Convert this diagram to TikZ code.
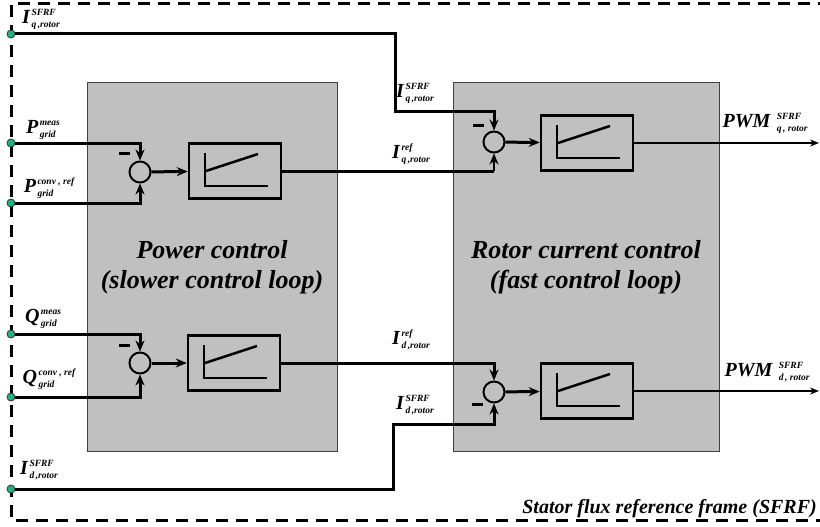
\documentclass[tikz,border=0pt]{standalone}
\usepackage{fontspec}
\setmainfont{Liberation Serif}
\usetikzlibrary{arrows.meta,calc}

\definecolor{panelgray}{RGB}{192,192,192}
\definecolor{tapgreen}{RGB}{30,180,130}

% symbol with stacked super- and subscript
\newcommand{\sgn}[3]{#1\hspace{1.5pt}\raisebox{-4pt}{\fontsize{9.5}{12.5}\selectfont\begin{tabular}[b]{@{}l@{}}#2\\#3\end{tabular}}}

\tikzset{
 panel/.style={draw=black!75,line width=1pt,fill=panelgray,minimum height=368pt,inner sep=0pt,align=center,font=\fontsize{26}{30}\selectfont\bfseries\itshape},
 piblk/.style={draw,line width=2.5pt,minimum width=92pt,minimum height=55pt,inner sep=0pt},
 sumj/.style={circle,draw,line width=2pt,minimum size=21pt,inner sep=0pt},
 tap/.style={circle,draw=black!80,line width=0.8pt,fill=tapgreen,minimum size=8pt,inner sep=0pt},
 sig/.style={line width=3pt},
 slim/.style={line width=1.4pt},
 tip/.style={-{Stealth[length=11pt,width=9pt]}},
 minus/.style={fill,minimum width=11pt,minimum height=3pt,inner sep=0pt},
 lbl/.style={inner sep=0pt,font=\fontsize{20}{22}\selectfont\bfseries\itshape},
 frame/.style={line width=3pt,dash pattern=on 12pt off 8pt}
}

\begin{document}
\begin{tikzpicture}[x=1pt,y=-1pt]
 \useasboundingbox (0,0) rectangle (820,527);
 \draw[frame] (830,4) -- (11,4) -- (11,520) -- (830,520);
 \node[panel,minimum width=250pt] (pc) at (212,267) {Power control\\(slower control loop)};
 \node[panel,minimum width=266pt] (rc) at (586,267) {Rotor current control\\(fast control loop)};
 % summing junctions and PI blocks
 \node[sumj] (sq1) at (140,172) {};
 \node[sumj] (sd1) at (140,363) {};
 \node[sumj] (sq2) at (494,142) {};
 \node[sumj] (sd2) at (494,392) {};
 \node[piblk] (pq1) at (235,171) {};
 \node[piblk] (pd1) at (234,363) {};
 \node[piblk] (pq2) at (587,143) {};
 \node[piblk] (pd2) at (587,391) {};
 \foreach \b in {pq1,pd1,pq2,pd2} {
  \draw[line width=2.5pt] ($(\b)+(-30,-18)$) -- ($(\b)+(-30,15)$) -- ($(\b)+(33,15)$);
  \draw[line width=2.5pt] ($(\b)+(-29,0)$) -- ($(\b)+(23,-17)$);
 }
 \node[minus] (mq1) at ($(sq1)+(-16,-19)$) {};
 \node[minus] (md1) at ($(sd1)+(-16,-18)$) {};
 \node[minus] (mq2) at ($(sq2)+(-16,-17)$) {};
 \node[minus] (md2) at ($(sd2)+(-17,12)$) {};
 % inputs
 \node[tap] (iqin) at (11,34) {};
 \node[tap] (pmeas) at (11,143) {};
 \node[tap] (pconv) at (11,203) {};
 \node[tap] (qmeas) at (11,334) {};
 \node[tap] (qconv) at (11,397) {};
 \node[tap] (idin) at (11,489) {};
 \coordinate (qbend) at (395,112);
 \coordinate (dbend) at (393,424);
 \coordinate (pwmq) at (819,143);
 \coordinate (pwmd) at (819,391);
 % connectors
 \draw[sig,tip] (pmeas) -| (sq1.north);
 \draw[sig,tip] (pconv) -| (sq1.south);
 \draw[sig,tip] (qmeas) -| (sd1.north);
 \draw[sig,tip] (qconv) -| (sd1.south);
 \draw[sig,tip] (sq1) -- (pq1);
 \draw[sig,tip] (sd1) -- (pd1);
 \draw[sig] (pq1.east) -- (pq1.east -| sq2);
 \draw[slim,tip] (pq1.east -| sq2) -- (sq2.south);
 \draw[sig,tip] (pd1.east) -| (sd2.north);
 \draw[sig,tip] (iqin) -| (qbend) -| (sq2.north);
 \draw[sig,tip] (idin) -| (dbend) -| (sd2.south);
 \draw[sig,tip] (sq2) -- (pq2);
 \draw[sig,tip] (sd2) -- (pd2);
 \draw[slim,-{Stealth[length=9pt,width=7pt]}] (pq2.east) -- (pwmq);
 \draw[slim,-{Stealth[length=9pt,width=7pt]}] (pd2.east) -- (pwmd);
 % labels
 \node[lbl] (tiq) at (41,19) {\sgn{I}{SFRF}{q\,,rotor}};
 \node[lbl] (tpm) at (43,129) {\sgn{P}{meas}{grid}};
 \node[lbl] (tpc) at (49,188) {\sgn{P}{conv , ref}{grid}};
 \node[lbl] (tqm) at (43,318) {\sgn{Q}{meas}{grid}};
 \node[lbl] (tqc) at (49,379) {\sgn{Q}{conv , ref}{grid}};
 \node[lbl] (tid) at (39,470) {\sgn{I}{SFRF}{d\,,rotor}};
 \node[lbl] (tiq2) at (415,93) {\sgn{I}{SFRF}{q\,,rotor}};
 \node[lbl] (tqr) at (411,154) {\sgn{I}{ref}{q\,,rotor}};
 \node[lbl] (tdr) at (411,340) {\sgn{I}{ref}{d\,,rotor}};
 \node[lbl] (tid2) at (415,405) {\sgn{I}{SFRF}{d\,,rotor}};
 \node[lbl] (tpwq) at (765,123) {PWM \sgn{}{SFRF}{q\,, rotor}};
 \node[lbl] (tpwd) at (767,372) {PWM \sgn{}{SFRF}{d\,, rotor}};
 \node[lbl,anchor=base east] (tsf) at (817,513) {Stator flux reference frame (SFRF)};
\end{tikzpicture}
\end{document}
